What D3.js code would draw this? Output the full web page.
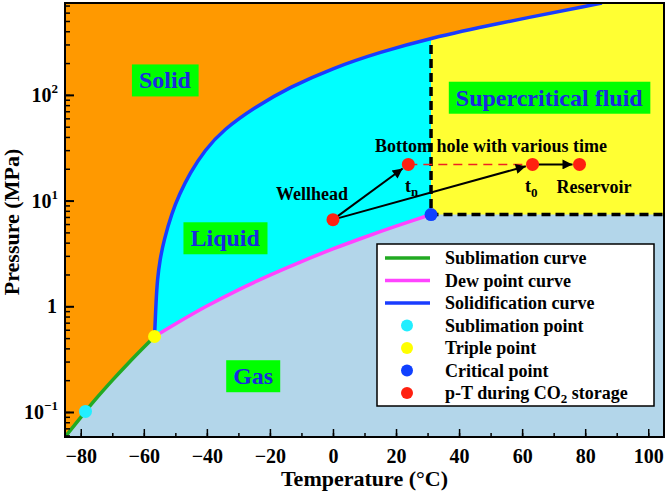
<!DOCTYPE html>
<html>
<head>
<meta charset="utf-8">
<script src="https://cdn.jsdelivr.net/npm/d3@7"></script>
<style>
  body { margin: 0; background: #fff; }
  text { font-family: "Liberation Serif", "Times New Roman", serif; font-weight: bold; }
</style>
</head>
<body>
<script>
// phase boundaries of CO2 (T in degC, p in MPa)
var sublimT = [-85, -80, -78.5, -75, -70, -65, -60, -56.6];
var sublimP = [0.058, 0.089, 0.1013, 0.135, 0.199, 0.288, 0.41, 0.518];

var dewT = [-56.6, -50, -40, -30, -20, -10, 0, 10, 20, 25, 31.1];
var dewP = [0.518, 0.68, 1.005, 1.43, 1.97, 2.65, 3.49, 4.50, 5.73, 6.43, 7.38];

var meltT = [-56.6, -56.1, -55.7, -54.9, -53.6, -51.1, -48.8, -45.4, -40.6, -34.9, -24.7, -13.6, 0, 14.9, 31.1, 49.8, 85.3];
var meltP = [0.518, 1.15, 1.77, 2.74, 4.24, 7.63, 11.3, 18.2, 30.1, 46.5, 76.8, 118.7, 179.6, 254, 345, 458, 740];

var points = [
  {name: "sublimation", T: -78.5, p: 0.1013, color: "#22eeff"},
  {name: "triple", T: -56.6, p: 0.518, color: "#ffff00"},
  {name: "critical", T: 31.1, p: 7.38, color: "#1040ff"}
];

// p-T during CO2 storage
var storageNames = ["Wellhead", "tn", "t0", "Reservoir"];
var storageT = [0, 23.9, 63.3, 78.2];
var storageP = [6.6, 22, 22, 22];

var xTicks = [-80, -60, -40, -20, 0, 20, 40, 60, 80, 100];
var yTicks = [0.1, 1, 10, 100];
var yTickBase = ["10", "1", "10", "10"];
var yTickExp = ["\u22121", "", "1", "2"];

var legendNames = ["Sublimation curve", "Dew point curve", "Solidification curve",
  "Sublimation point", "Triple point", "Critical point", "p-T during CO2 storage"];

var W = 666, H = 494;
var pL = 65, pR = 664, pT = 3, pB = 437;

var svg = d3.select("body").append("svg").attr("width", W).attr("height", H);

var x = d3.scaleLinear().domain([-85, 105]).range([pL, pR]);
var y = d3.scaleLog().domain([0.058, 740]).range([pB, pT]);

var sub = sublimT.map(function(t, i) { return [t, sublimP[i]]; });
var dew = dewT.map(function(t, i) { return [t, dewP[i]]; });
var melt = meltT.map(function(t, i) { return [t, meltP[i]]; });

var line = d3.line().x(function(d) { return x(d[0]); }).y(function(d) { return y(d[1]); });
var curve = d3.line().curve(d3.curveMonotoneX).x(function(d) { return x(d[0]); }).y(function(d) { return y(d[1]); });
var curveM = d3.line().curve(d3.curveBasis).x(function(d) { return x(d[0]); }).y(function(d) { return y(d[1]); });

svg.append("clipPath").attr("id", "clip").append("rect")
  .attr("x", pL).attr("y", pT).attr("width", pR - pL).attr("height", pB - pT);

var plot = svg.append("g").attr("clip-path", "url(#clip)");

// gas background
plot.append("rect").attr("x", pL).attr("y", pT).attr("width", pR - pL).attr("height", pB - pT)
  .attr("fill", "#b3d6ea");

// liquid region (the solid region is painted over its upper-left part)
plot.append("path")
  .attr("d", curve(dew) + line([[31.1, 7.38], [31.1, 740], [-56.6, 740]]).replace(/^M/, "L") + "Z")
  .attr("fill", "#00ffff");

// supercritical region
plot.append("path")
  .attr("d", line([[31.1, 7.38], [105, 7.38], [105, 740], [31.1, 740]]) + "Z")
  .attr("fill", "#ffff33");

// dashed critical boundaries
plot.append("path")
  .attr("d", line([[31.1, 740], [31.1, 7.38], [105, 7.38]]))
  .attr("fill", "none").attr("stroke", "#000").attr("stroke-width", 3.5)
  .attr("stroke-dasharray", "9,5");

// solid region
plot.append("path")
  .attr("d", curve(sub) + curveM(melt).replace(/^M/, "L") +
    line([[105, 740], [105, 900], [-85, 900]]).replace(/^M/, "L") + "Z")
  .attr("fill", "#ff9900");

// curves
plot.append("path").attr("d", curve(sub)).attr("fill", "none").attr("stroke", "#22aa22").attr("stroke-width", 3.5);
plot.append("path").attr("d", curve(dew)).attr("fill", "none").attr("stroke", "#ff44ff").attr("stroke-width", 3.5);
plot.append("path").attr("d", curveM(melt)).attr("fill", "none").attr("stroke", "#1a3cff").attr("stroke-width", 3.5);

// region labels
var regions = [
  {text: "Solid", T: -53.3, p: 137},
  {text: "Liquid", T: -34.2, p: 4.4},
  {text: "Supercritical fluid", T: 68.6, p: 94},
  {text: "Gas", T: -25.3, p: 0.218}
];
regions.forEach(function(r) {
  var g = plot.append("g");
  var t = g.append("text").attr("x", x(r.T)).attr("y", y(r.p)).attr("text-anchor", "middle")
    .attr("dominant-baseline", "central").attr("font-size", 24).attr("fill", "#1a2ae0").text(r.text);
  var bb = t.node().getBBox();
  g.insert("rect", "text").attr("x", bb.x - 7).attr("y", bb.y - 3)
    .attr("width", bb.width + 14).attr("height", bb.height + 6).attr("fill", "#00ff00");
});

// arrows
svg.append("defs").append("marker").attr("id", "arrow")
  .attr("viewBox", "0 0 10 10").attr("refX", 10).attr("refY", 5)
  .attr("markerWidth", 6).attr("markerHeight", 5).attr("orient", "auto")
  .attr("markerUnits", "strokeWidth")
  .append("path").attr("d", "M0,0L10,5L0,10Z").attr("fill", "#000");

var sp = storageT.map(function(t, i) { return [x(t), y(storageP[i])]; });

plot.append("path").attr("d", d3.line()([sp[1], sp[2]]))
  .attr("stroke", "#ee2222").attr("stroke-width", 1.5).attr("stroke-dasharray", "9,6").attr("fill", "none");

function arrow(a, b) {
  var dx = b[0] - a[0], dy = b[1] - a[1], len = Math.sqrt(dx * dx + dy * dy);
  var r = 7;
  plot.append("line").attr("x1", a[0]).attr("y1", a[1])
    .attr("x2", b[0] - dx / len * r).attr("y2", b[1] - dy / len * r)
    .attr("stroke", "#000").attr("stroke-width", 2).attr("marker-end", "url(#arrow)");
}
arrow(sp[0], sp[1]);
arrow(sp[0], sp[2]);
arrow(sp[2], sp[3]);

plot.selectAll(".pt").data(points).join("circle")
  .attr("cx", function(d) { return x(d.T); }).attr("cy", function(d) { return y(d.p); })
  .attr("r", 6.5).attr("fill", function(d) { return d.color; });

plot.selectAll(".sp").data(sp).join("circle")
  .attr("cx", function(d) { return d[0]; }).attr("cy", function(d) { return d[1]; })
  .attr("r", 6.5).attr("fill", "#ff2010");

// annotations
var ann = svg.append("g").attr("font-size", 18).attr("fill", "#000");
ann.append("text").attr("x", 491).attr("y", 152).attr("text-anchor", "middle").text("Bottom hole with various time");
ann.append("text").attr("x", 312).attr("y", 200).attr("text-anchor", "middle").text("Wellhead");
var tn = ann.append("text").attr("x", 405).attr("y", 192);
tn.append("tspan").text("t");
tn.append("tspan").attr("font-size", 13).attr("dy", 4).text("n");
var t0 = ann.append("text").attr("x", 525).attr("y", 192);
t0.append("tspan").text("t");
t0.append("tspan").attr("font-size", 13).attr("dy", 5).text("0");
ann.append("text").attr("x", 594).attr("y", 193).attr("text-anchor", "middle").text("Reservoir");

// axes
var minorX = d3.range(-80, 105, 10);
svg.append("g").attr("transform", "translate(0," + pB + ")")
  .call(d3.axisBottom(x).tickValues(minorX).tickSize(-4).tickFormat(""))
  .call(function(g) { g.select(".domain").remove(); g.selectAll("line").attr("stroke-width", 1.5); });
svg.append("g").attr("transform", "translate(0," + pB + ")")
  .call(d3.axisBottom(x).tickValues(xTicks).tickSize(-8).tickPadding(12).tickFormat(function(d) {
    return d < 0 ? "\u2212" + Math.abs(d) : d;
  }))
  .call(function(g) {
    g.select(".domain").remove();
    g.selectAll("line").attr("stroke-width", 1.5);
    g.selectAll("text").attr("font-size", 20).attr("fill", "#000")
      .attr("font-family", "Liberation Serif").attr("font-weight", "bold");
  });

svg.append("g").attr("transform", "translate(" + pL + ",0)")
  .call(d3.axisLeft(y).tickValues(y.ticks()).tickSize(-5).tickFormat(""))
  .call(function(g) { g.select(".domain").remove(); g.selectAll("line").attr("stroke-width", 1.5); });
svg.append("g").attr("transform", "translate(" + pL + ",0)")
  .call(d3.axisLeft(y).tickValues(yTicks).tickSize(-9).tickFormat(""))
  .call(function(g) { g.select(".domain").remove(); g.selectAll("line").attr("stroke-width", 2); });

var yl = svg.append("g").selectAll("text").data(yTicks).join("text")
  .attr("x", function(d, i) { return yTickExp[i] ? 58 : 57; })
  .attr("y", function(d) { return y(d) + 7; }).attr("text-anchor", "end")
  .attr("font-size", 20).attr("fill", "#000");
yl.append("tspan").text(function(d, i) { return yTickBase[i]; });
yl.append("tspan").attr("font-size", 13).attr("dy", -9).text(function(d, i) { return yTickExp[i]; });

// frame
svg.append("rect").attr("x", pL).attr("y", pT).attr("width", pR - pL).attr("height", pB - pT)
  .attr("fill", "none").attr("stroke", "#000").attr("stroke-width", 2);

// axis titles
svg.append("text").attr("x", (pL + pR) / 2).attr("y", 486).attr("text-anchor", "middle")
  .attr("font-size", 22).text("Temperature (\u00b0C)");
svg.append("text").attr("transform", "translate(19,222) rotate(-90)").attr("text-anchor", "middle")
  .attr("font-size", 22).text("Pressure (MPa)");

// legend
var lg = svg.append("g");
lg.append("rect").attr("x", 377).attr("y", 244).attr("width", 277).attr("height", 162)
  .attr("fill", "#fff").attr("stroke", "#000").attr("stroke-width", 1.5);
var legendColors = ["#22aa22", "#ff44ff", "#1a3cff", "#22eeff", "#ffff00", "#1040ff", "#ff2010"];
var ly = d3.scalePoint().domain(legendNames).range([258, 393]);
legendNames.forEach(function(name, i) {
  var yy = ly(name);
  if (i < 3) {
    lg.append("line").attr("x1", 385).attr("x2", 430).attr("y1", yy).attr("y2", yy)
      .attr("stroke", legendColors[i]).attr("stroke-width", 3.5);
  } else {
    lg.append("circle").attr("cx", 407).attr("cy", yy).attr("r", 6).attr("fill", legendColors[i]);
  }
  var t = lg.append("text").attr("x", 445).attr("y", yy + 6).attr("font-size", 18).attr("fill", "#000");
  if (name.indexOf("CO2") >= 0) {
    t.append("tspan").text("p-T during CO");
    t.append("tspan").attr("font-size", 13).attr("dy", 4).text("2");
    t.append("tspan").attr("dy", -4).text(" storage");
  } else {
    t.text(name);
  }
});
</script>
</body>
</html>
